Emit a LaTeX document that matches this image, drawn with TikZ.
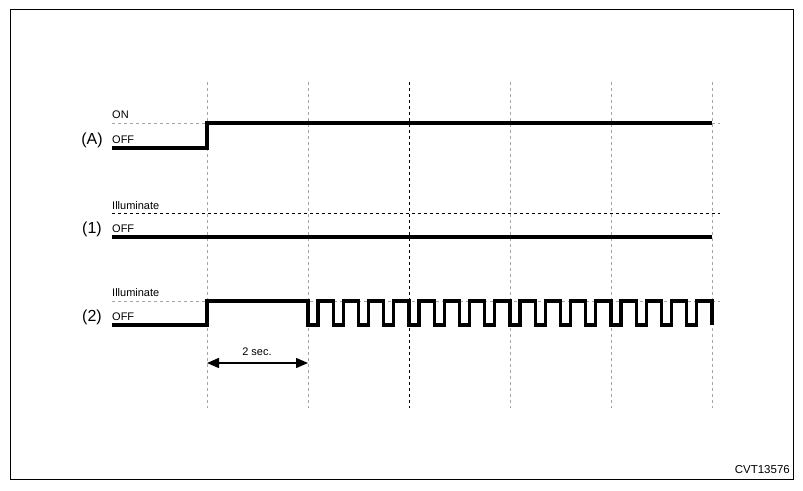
\documentclass[tikz,border=0pt]{standalone}
\usepackage{fontspec}
\setmainfont{Liberation Sans}
\usetikzlibrary{arrows.meta}

\tikzset{
    signal/.style = {line width=3.2pt, line join=miter, line cap=butt},
    grid/.style = {gray!70, line width=1pt, dash pattern=on 3pt off 3pt},
    level/.style = {line width=0.8pt, dash pattern=on 3pt off 3pt},
    lbl/.style = {anchor=west, inner sep=0pt, font=\fontsize{11}{13}\selectfont},
    chan/.style = {inner sep=0pt, font=\fontsize{16}{18}\selectfont}
}

\begin{document}
\begin{tikzpicture}[x=1pt, y=-1pt]
                \useasboundingbox (0,0) rectangle (803,490);
                \draw[line width=1pt] (10,9) rectangle (793,479);
                % time marks
                \foreach \n/\x in {0/207, 1/308, 2/409, 3/510, 4/611, 5/712} {
                    \coordinate (t\n) at (\x,82);
                    \coordinate (b\n) at (\x,408);
                }
                \foreach \n in {0,1,3,4,5} \draw[grid] (t\n) -- (b\n);
                \draw[grid, black] (t2) -- (b2);
                % reference levels
                \draw[level, gray!70] (112,123) -- (720,123);
                \draw[level, black] (112,213) -- (720,213);
                \draw[level, gray!70] (112,301) -- (720,301);
                % signals
                \draw[signal] (112,148) -- (207,148) -- (207,123) -- (712,123);
                \draw[signal] (112,237) -- (712,237);
                \draw[signal] (112,325) -- (207,325) -- (207,301) -- (308,301) -- (308,325)
                    \foreach \i in {0,...,15} {
                        -- ({308+25.25*\i+10},325) -- ({308+25.25*\i+10},301)
                        -- ({308+25.25*(\i+1)},301) -- ({308+25.25*(\i+1)},325)
                    };
                % labels
                \node[chan] (chA) at (92,140) {(A)};
                \node[lbl] (onA) at (112,115) {ON};
                \node[lbl] (offA) at (112,140) {OFF};
                \node[chan] (ch1) at (92,229) {(1)};
                \node[lbl] (ill1) at (112,206) {Illuminate};
                \node[lbl] (off1) at (112,229) {OFF};
                \node[chan] (ch2) at (92,317) {(2)};
                \node[lbl] (ill2) at (112,293) {Illuminate};
                \node[lbl] (off2) at (112,317) {OFF};
                % 2 sec. span
                \coordinate (s0) at (207,363);
                \coordinate (s1) at (308,363);
                \draw[line width=1.5pt, {Triangle[length=12pt,width=10pt]}-{Triangle[length=12pt,width=10pt]}] (s0) -- (s1);
                \node[inner sep=0pt, font=\fontsize{11}{13}\selectfont] (span) at (257,352) {2 sec.};
                \node[inner sep=0pt, anchor=east, font=\fontsize{11.5}{13}\selectfont] (code) at (790,470) {CVT13576};
            \end{tikzpicture}
\end{document}
